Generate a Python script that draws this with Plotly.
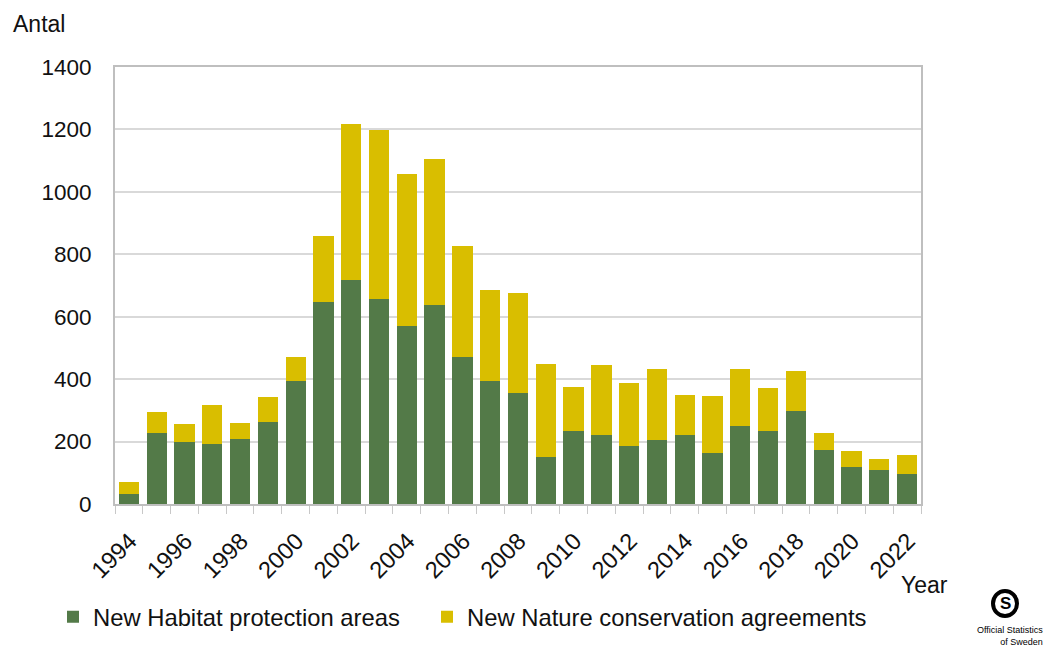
import plotly.graph_objects as go

years = [str(y) for y in range(1994, 2023)]
habitat = [32, 229, 200, 191, 208, 262, 393, 648, 718, 656, 570, 639, 471, 393, 357,
           151, 233, 220, 187, 204, 220, 162, 249, 233, 298, 174, 118, 109, 97]
totals = [72, 294, 257, 318, 261, 343, 470, 860, 1217, 1197, 1057, 1106, 827, 684, 675,
          449, 375, 446, 388, 433, 350, 346, 433, 371, 425, 228, 170, 145, 157]
agreements = [t - h for t, h in zip(totals, habitat)]
tick_text = [y if int(y) % 2 == 0 else "" for y in years]

GREEN = "#537a48"
YELLOW = "#d9be00"
FONT = "Liberation Sans, Arial, sans-serif"
FS = 22.5

fig = go.Figure()
fig.add_trace(go.Bar(x=years, y=habitat, name="New Habitat protection areas",
                     marker=dict(color=GREEN, line=dict(width=0)), legend="legend"))
fig.add_trace(go.Bar(x=years, y=agreements, name="New Nature conservation agreements",
                     marker=dict(color=YELLOW, line=dict(width=0)), legend="legend2"))

leg_common = dict(orientation="h", yanchor="middle", y=-0.258, xanchor="left",
                  font=dict(size=23.8), bgcolor="rgba(0,0,0,0)")
fig.update_layout(
    barmode="stack",
    bargap=0.27,
    width=1043, height=646,
    margin=dict(l=115, r=122, t=67, b=142, autoexpand=False),
    paper_bgcolor="white", plot_bgcolor="white",
    font=dict(family=FONT, size=FS, color="#111111"),
    showlegend=True,
    legend=dict(x=(53 - 115) / 806, **leg_common),
    legend2=dict(x=(427 - 115) / 806, **leg_common),
)
fig.update_xaxes(
    type="category", tickmode="array", tickvals=years, ticktext=tick_text,
    tickangle=-45, tickson="boundaries", ticks="outside", ticklen=8,
    tickcolor="#c8c8c8", tickwidth=1, ticklabelstandoff=12, ticklabelshift=1,
    automargin=False,
    showline=True, linecolor="#bfbfbf", linewidth=2, mirror=True,
    showgrid=False, tickfont=dict(size=23.5),
)
fig.update_yaxes(
    range=[0, 1400], dtick=200, showgrid=True, gridcolor="#d9d9d9", gridwidth=2,
    showline=True, linecolor="#bfbfbf", linewidth=2, mirror=True, automargin=False,
    ticks="", ticklabelstandoff=17, tickfont=dict(size=FS), zeroline=False,
)

fig.add_annotation(text="Antal", xref="paper", yref="paper", x=(11 - 115) / 806,
                   y=(504 - 24) / 437, xanchor="left", yanchor="middle",
                   showarrow=False, font=dict(size=23))
fig.add_annotation(text="Year", xref="paper", yref="paper", x=(899 - 115) / 806,
                   y=(504 - 585) / 437, xanchor="left", yanchor="middle",
                   showarrow=False, font=dict(size=23))

# Official Statistics of Sweden logo
fig.add_shape(type="circle", xref="paper", yref="paper",
              x0=(991 - 115) / 806, x1=(1019 - 115) / 806,
              y0=(504 - 618) / 437, y1=(504 - 589) / 437,
              fillcolor="black", line=dict(width=0))
fig.add_shape(type="circle", xref="paper", yref="paper",
              x0=(995 - 115) / 806, x1=(1015 - 115) / 806,
              y0=(504 - 614) / 437, y1=(504 - 593) / 437,
              fillcolor="white", line=dict(width=0))
fig.add_annotation(text="<b>S</b>", xref="paper", yref="paper",
                   x=(1005 - 115) / 806, y=(504 - 603.5) / 437,
                   xanchor="center", yanchor="middle", showarrow=False,
                   font=dict(size=17, color="black"))
fig.add_annotation(text="Official Statistics<br>of Sweden", xref="paper", yref="paper",
                   x=(1010 - 115) / 806, y=(504 - 636) / 437,
                   xanchor="center", yanchor="middle", showarrow=False, align="right",
                   font=dict(size=9, family="Liberation Sans Narrow, Liberation Sans, Arial", color="black"))

fig.write_html("out.html")
